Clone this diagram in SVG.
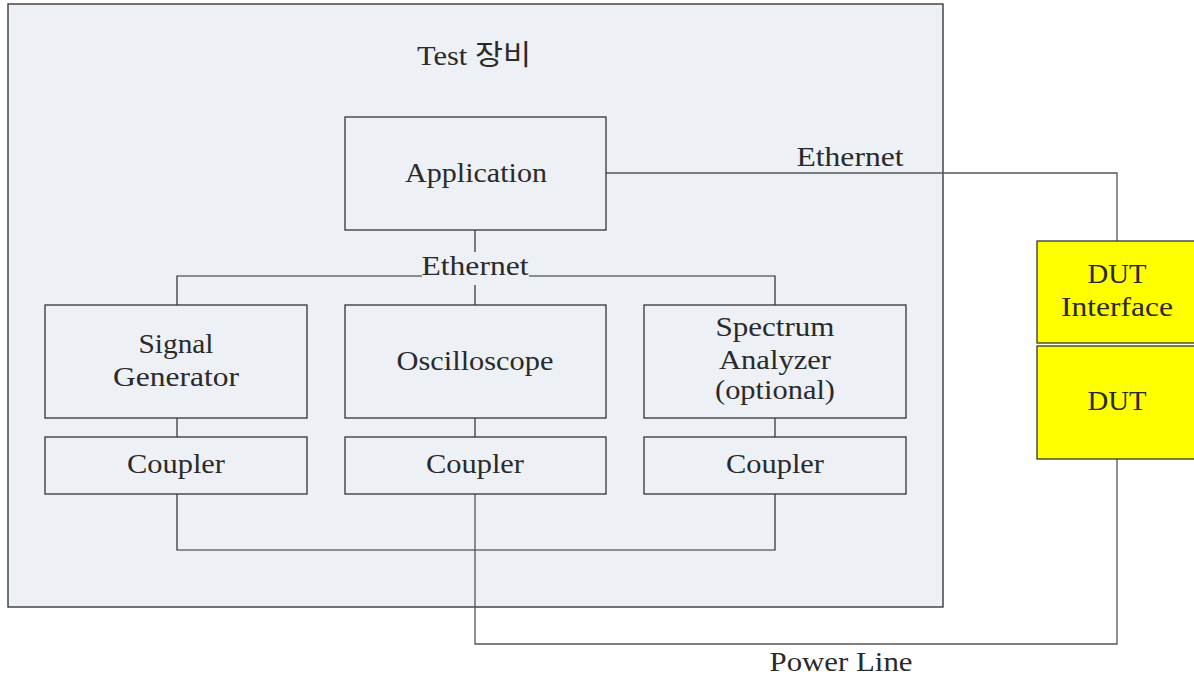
<svg xmlns="http://www.w3.org/2000/svg" width="1194" height="677" viewBox="0 0 1194 677">
  <style>
    .frame { fill: #EDF0F5; stroke: #3a3a3a; stroke-width: 1.4; }
    .box { fill: #EDF0F5; stroke: #333333; stroke-width: 1.3; }
    .dut { fill: #FFFF00; stroke: #333333; stroke-width: 1.3; }
    .wire { fill: none; stroke: #2a2a2a; stroke-width: 1.2; }
    .wire-out { fill: none; stroke: #555555; stroke-width: 1.3; }
    text { font-family: "Liberation Serif", "Noto Sans CJK KR", serif; font-size: 28px; fill: #2a2a2a; text-anchor: middle; }
  </style>

  <!-- equipment enclosure -->
  <g id="test-equipment">
    <rect class="frame" x="8" y="4" width="935" height="603"/>
    <text x="474" y="65" textLength="114" lengthAdjust="spacingAndGlyphs">Test 장비</text>
  </g>

  <!-- links -->
  <g id="connectors">
    <!-- Application to instrument bus -->
    <polyline class="wire" points="475,230 475,252"/>
    <polyline class="wire" points="475,285 475,305"/>
    <polyline class="wire" points="177,305 177,276 422,276"/>
    <polyline class="wire" points="529,276 775,276 775,305"/>
    <!-- instruments to couplers -->
    <line class="wire" x1="177" y1="418" x2="177" y2="437"/>
    <line class="wire" x1="475" y1="418" x2="475" y2="437"/>
    <line class="wire" x1="775" y1="418" x2="775" y2="437"/>
    <!-- coupler bus -->
    <polyline class="wire" points="177,494 177,550 775,550 775,494"/>
    <!-- power line to DUT -->
    <polyline class="wire-out" points="475,494 475,644 1117,644 1117,459"/>
    <!-- Ethernet to DUT interface -->
    <polyline class="wire-out" points="606,173 1117,173 1117,241"/>
    <text x="850" y="166" textLength="107" lengthAdjust="spacingAndGlyphs">Ethernet</text>
    <text x="475" y="275" textLength="107" lengthAdjust="spacingAndGlyphs">Ethernet</text>
    <text x="841" y="671" textLength="143" lengthAdjust="spacingAndGlyphs">Power Line</text>
  </g>

  <g id="application">
    <rect class="box" x="345" y="117" width="261" height="113"/>
    <text x="476" y="182" textLength="142" lengthAdjust="spacingAndGlyphs">Application</text>
  </g>

  <g id="signal-generator">
    <rect class="box" x="45" y="305" width="262" height="113"/>
    <text x="176" y="353" textLength="75" lengthAdjust="spacingAndGlyphs">Signal</text>
    <text x="176" y="386" textLength="126" lengthAdjust="spacingAndGlyphs">Generator</text>
  </g>

  <g id="oscilloscope">
    <rect class="box" x="345" y="305" width="261" height="113"/>
    <text x="475" y="370" textLength="157" lengthAdjust="spacingAndGlyphs">Oscilloscope</text>
  </g>

  <g id="spectrum-analyzer">
    <rect class="box" x="644" y="305" width="262" height="113"/>
    <text x="775" y="336" textLength="119" lengthAdjust="spacingAndGlyphs">Spectrum</text>
    <text x="775" y="369" textLength="112" lengthAdjust="spacingAndGlyphs">Analyzer</text>
    <text x="775" y="399" textLength="120" lengthAdjust="spacingAndGlyphs">(optional)</text>
  </g>

  <g id="coupler-1">
    <rect class="box" x="45" y="437" width="262" height="57"/>
    <text x="176" y="473" textLength="98" lengthAdjust="spacingAndGlyphs">Coupler</text>
  </g>

  <g id="coupler-2">
    <rect class="box" x="345" y="437" width="261" height="57"/>
    <text x="475" y="473" textLength="98" lengthAdjust="spacingAndGlyphs">Coupler</text>
  </g>

  <g id="coupler-3">
    <rect class="box" x="644" y="437" width="262" height="57"/>
    <text x="775" y="473" textLength="98" lengthAdjust="spacingAndGlyphs">Coupler</text>
  </g>

  <g id="dut-interface">
    <rect class="dut" x="1037" y="241" width="162" height="102"/>
    <text x="1117" y="283" textLength="59" lengthAdjust="spacingAndGlyphs">DUT</text>
    <text x="1117" y="316" textLength="112" lengthAdjust="spacingAndGlyphs">Interface</text>
  </g>

  <g id="dut">
    <rect class="dut" x="1037" y="346" width="162" height="113"/>
    <text x="1117" y="410" textLength="59" lengthAdjust="spacingAndGlyphs">DUT</text>
  </g>
</svg>
